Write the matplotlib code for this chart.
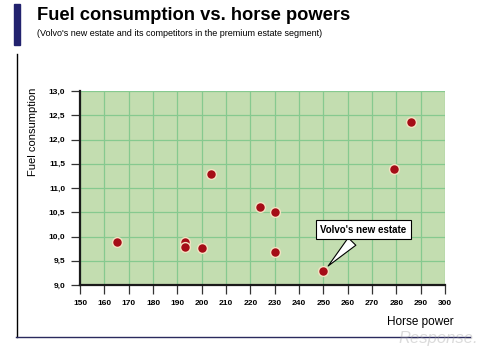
import matplotlib
matplotlib.use("Agg")
import matplotlib.pyplot as plt
from matplotlib.lines import Line2D
from matplotlib.patches import Rectangle

plt.rcParams['font.family'] = ['Liberation Sans', 'DejaVu Sans']

horse_power = [165, 193, 193, 200, 204, 224, 230, 230, 250, 279, 286]
fuel = [9.88, 9.88, 9.78, 9.77, 11.28, 10.6, 10.5, 9.69, 9.29, 11.39, 12.36]
x_ticks = list(range(150, 301, 10))
y_ticks = [9.0, 9.5, 10.0, 10.5, 11.0, 11.5, 12.0, 12.5, 13.0]
y_tick_labels = [f"{v:.1f}".replace('.', ',') for v in y_ticks]
highlight_label = "Volvo's new estate"
highlight_point = (250, 9.29)

fig = plt.figure(figsize=(5.0, 3.53), dpi=100)
ax = fig.add_axes([0.16, 0.1926, 0.73, 0.5494])
ax.set_facecolor('#c3ddb0')
ax.set_xlim(150, 300)
ax.set_ylim(9.0, 13.0)
ax.set_xticks(x_ticks)
ax.set_yticks(y_ticks)
ax.set_yticklabels(y_tick_labels)
ax.grid(True, color='#86c98f', linewidth=0.9)
ax.set_axisbelow(True)
for s in ['top', 'right']:
    ax.spines[s].set_visible(False)
for s in ['left', 'bottom']:
    ax.spines[s].set_color('#1a1a1a')
    ax.spines[s].set_linewidth(1.6)
ax.tick_params(axis='both', length=6.5, width=0.9, color='#333333', pad=4,
               labelsize=6)
for lab in ax.get_xticklabels() + ax.get_yticklabels():
    lab.set_fontweight('bold')

ax.scatter(horse_power, fuel, s=50, color='#a50d17', edgecolor='#f3e3c3',
           linewidth=1.0, zorder=3, clip_on=False)

ax.annotate(highlight_label, xy=highlight_point, xytext=(266.5, 10.14),
            ha='center', va='center', fontsize=7, fontweight='bold',
            bbox=dict(boxstyle='square,pad=0.45', fc='white', ec='black', lw=0.8),
            arrowprops=dict(arrowstyle='wedge,tail_width=1.1,shrink_factor=0.5',
                            fc='white', ec='black', lw=0.8,
                            shrinkB=5),
            zorder=5)

# figure decorations
fig.patches.append(Rectangle((14/500, 1-45/353), 6/500, 41/353,
                             transform=fig.transFigure, color='#22226e'))
fig.lines.append(Line2D([16.5/500, 16.5/500], [1-54/353, 1-337/353],
                        transform=fig.transFigure, color='black', lw=1.0))
fig.lines.append(Line2D([16/500, 470/500], [1-337/353, 1-337/353],
                        transform=fig.transFigure, color='#2a2a5e', lw=1.0))

fig.text(37/500, 1-16/353, "Fuel consumption vs. horse powers",
         fontsize=13.2, fontweight='bold', va='center', ha='left')
fig.text(37/500, 1-33/353,
         "(Volvo's new estate and its competitors in the premium estate segment)",
         fontsize=6.5, va='center', ha='left')
fig.text(33/500, 1-132/353, "Fuel consumption", rotation=90, fontsize=8,
         va='center', ha='center')
fig.text(420/500, 1-322/353, "Horse power", fontsize=8.5, va='center',
         ha='center')
fig.text(438/500, 1-339/353, "Response.", fontsize=12, style='italic',
         color='#9a9a9a', alpha=0.35, va='center', ha='center')

fig.savefig('out.png', dpi=100)
